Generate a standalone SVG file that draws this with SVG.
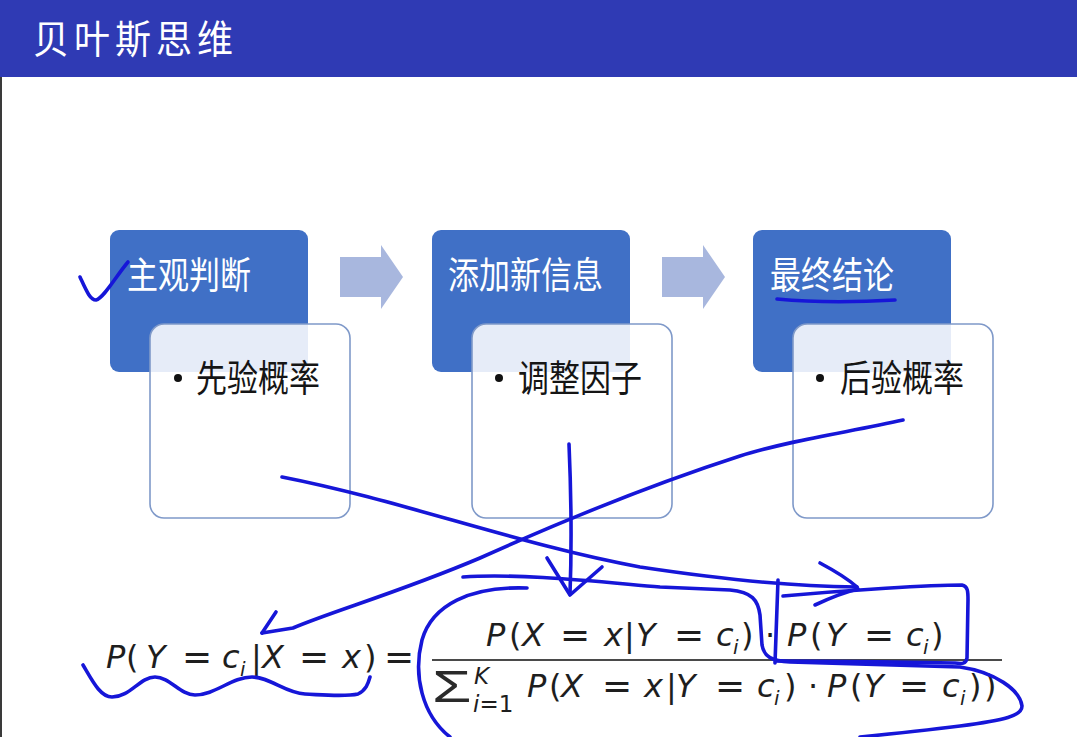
<svg xmlns="http://www.w3.org/2000/svg" width="1077" height="737" viewBox="0 0 1077 737">
  <style>
    .cjk { font-family: "Noto Sans CJK SC", "Noto Sans", sans-serif; }
    .title { fill: #ffffff; font-size: 36px; letter-spacing: 5px; }
    .head { fill: #ffffff; font-size: 31px; }
    .item { fill: #151515; font-size: 31px; }
    .hbox { fill: #4070c6; }
    .dbox { fill: #ffffff; fill-opacity: 0.87; stroke: #7f99c9; stroke-width: 1.6; }
    .bullet { fill: #111111; }
    .flow { fill: #a8b7de; }
    .math { font-family: "DejaVu Sans", "Liberation Sans", sans-serif; font-size: 32px; fill: #1e1e1e; }
    .it { font-style: italic; }
    .eq { font-size: 36px; }
    .sub { font-size: 20px; }
    .lim { font-size: 23px; }
    .sigma { font-family: "Liberation Sans", "DejaVu Sans", sans-serif; font-size: 45px; fill: #2a2a2a; }
    .bar { stroke: #4a4a4a; stroke-width: 2; }
    .ink { fill: none; stroke: #1616d8; stroke-width: 3.6; stroke-linecap: round; stroke-linejoin: round; }
  </style>

  <!-- background and title bar -->
  <rect x="0" y="0" width="1077" height="737" fill="#ffffff"/>
  <rect x="0" y="0" width="1077" height="77" fill="#2f3ab4"/>
  <rect x="0" y="77" width="2" height="660" fill="#3a3a3a"/>
  <text class="cjk title" transform="translate(33,53) scale(1,1.06)">贝叶斯思维</text>

  <!-- flow arrows between stages -->
  <g id="connectors">
    <path class="flow" d="M340,257 H381 V245 L403,277 L381,309 V297 H340 Z"/>
    <path class="flow" d="M662,257 H703 V245 L725,277 L703,309 V297 H662 Z"/>
  </g>

  <!-- stage 1 -->
  <g id="node-prior">
    <rect class="hbox" x="110" y="230" width="198" height="142" rx="9"/>
    <text class="cjk head" transform="translate(127,289) scale(1,1.2)">主观判断</text>
    <rect class="dbox" x="150" y="324" width="200" height="194" rx="14"/>
    <circle class="bullet" cx="178" cy="378" r="4"/>
    <text class="cjk item" transform="translate(196,392) scale(1,1.2)">先验概率</text>
  </g>

  <!-- stage 2 -->
  <g id="node-evidence">
    <rect class="hbox" x="432" y="230" width="198" height="142" rx="9"/>
    <text class="cjk head" transform="translate(448,289) scale(1,1.2)">添加新信息</text>
    <rect class="dbox" x="472" y="324" width="200" height="194" rx="14"/>
    <circle class="bullet" cx="499" cy="378" r="4"/>
    <text class="cjk item" transform="translate(518,392) scale(1,1.2)">调整因子</text>
  </g>

  <!-- stage 3 -->
  <g id="node-posterior">
    <rect class="hbox" x="753" y="230" width="198" height="142" rx="9"/>
    <text class="cjk head" transform="translate(770,289) scale(1,1.2)">最终结论</text>
    <rect class="dbox" x="793" y="324" width="200" height="194" rx="14"/>
    <circle class="bullet" cx="820" cy="378" r="4"/>
    <text class="cjk item" transform="translate(840,392) scale(1,1.2)">后验概率</text>
  </g>

  <!-- Bayes formula -->
  <g id="formula">
    <!-- left-hand side -->
    <text class="math">
      <tspan class="it" x="106" y="668">P</tspan><tspan x="126" y="668">(</tspan><tspan class="it" x="146" y="668">Y</tspan><tspan class="eq" x="182" y="669">=</tspan><tspan class="it" x="222" y="668">c</tspan><tspan class="it sub" x="240" y="676">i</tspan><tspan x="251" y="668">|</tspan><tspan class="it" x="262" y="668">X</tspan><tspan class="eq" x="299" y="669">=</tspan><tspan class="it" x="342" y="668">x</tspan><tspan x="364" y="668">)</tspan><tspan class="eq" x="384" y="669">=</tspan>
    </text>
    <!-- numerator -->
    <text class="math">
      <tspan class="it" x="486" y="646">P</tspan><tspan x="509" y="646">(</tspan><tspan class="it" x="522" y="646">X</tspan><tspan class="eq" x="560" y="647">=</tspan><tspan class="it" x="604" y="646">x</tspan><tspan x="624" y="646">|</tspan><tspan class="it" x="636" y="646">Y</tspan><tspan class="eq" x="674" y="647">=</tspan><tspan class="it" x="716" y="646">c</tspan><tspan class="it sub" x="733" y="654">i</tspan><tspan x="741" y="646">)</tspan><tspan x="765" y="646">·</tspan><tspan class="it" x="787" y="646">P</tspan><tspan x="810" y="646">(</tspan><tspan class="it" x="826" y="646">Y</tspan><tspan class="eq" x="864" y="647">=</tspan><tspan class="it" x="906" y="646">c</tspan><tspan class="it sub" x="923" y="654">i</tspan><tspan x="931" y="646">)</tspan>
    </text>
    <line class="bar" x1="432" y1="660" x2="1002" y2="660"/>
    <!-- denominator -->
    <text class="sigma" transform="translate(432,702) scale(1.42,1)">Σ</text>
    <text class="math">
      <tspan class="it lim" x="474" y="684">K</tspan><tspan class="lim" x="473" y="712"><tspan class="it">i</tspan>=1</tspan><tspan class="it" x="527" y="697">P</tspan><tspan x="549" y="697">(</tspan><tspan class="it" x="561" y="697">X</tspan><tspan class="eq" x="602" y="698">=</tspan><tspan class="it" x="644" y="697">x</tspan><tspan x="666" y="697">|</tspan><tspan class="it" x="676" y="697">Y</tspan><tspan class="eq" x="715" y="698">=</tspan><tspan class="it" x="757" y="697">c</tspan><tspan class="it sub" x="774" y="705">i</tspan><tspan x="784" y="697">)</tspan><tspan x="808" y="697">·</tspan><tspan class="it" x="827" y="697">P</tspan><tspan x="850" y="697">(</tspan><tspan class="it" x="864" y="697">Y</tspan><tspan class="eq" x="899" y="698">=</tspan><tspan class="it" x="942" y="697">c</tspan><tspan class="it sub" x="960" y="705">i</tspan><tspan x="969" y="697">)</tspan><tspan x="984" y="697">)</tspan>
    </text>
  </g>

  <!-- pen annotations -->
  <g id="ink">
    <!-- tick beside the first heading -->
    <path class="ink" d="M80,277 C86,290 90,300 96,300 C104,298 116,276 128,262"/>
    <!-- underline of the conclusion heading -->
    <path class="ink" d="M777,299 C820,303 860,302 895,300"/>
    <!-- prior to the P(Y=c_i) factor -->
    <path class="ink" d="M282,477 C400,500 520,545 640,567 C740,582 800,586 857,587"/>
    <path class="ink" d="M820,563 C835,571 848,579 857,587"/>
    <path class="ink" d="M815,605 C830,598 845,592 858,589"/>
    <!-- box round P(Y=c_i) in the numerator -->
    <path class="ink" d="M778,580 L775,663"/>
    <path class="ink" d="M783,596 C850,590 930,585 962,585 C968,586 968,592 968,600 L967,658 C966,664 962,664 955,663 C900,662 820,661 776,661"/>
    <!-- posterior to the left-hand side -->
    <path class="ink" d="M903,420 C850,432 790,440 740,456 C650,485 560,522 480,558 C400,592 330,612 293,628 L262,633"/>
    <path class="ink" d="M262,633 L276,612"/>
    <!-- adjustment factor down to the fraction -->
    <path class="ink" d="M569,444 C571,490 572,540 570,594"/>
    <path class="ink" d="M547,558 L570,595 L602,567"/>
    <!-- loop round the fraction -->
    <path class="ink" d="M527,588 C470,586 432,605 422,640 C413,675 422,715 450,737"/>
    <path class="ink" d="M463,577 C520,573 600,582 660,587 L730,590 C752,592 758,600 760,615 L762,645 C764,657 772,661 790,662 L960,667 C995,672 1020,690 1022,706 C1022,716 1005,720 960,726 C920,731 890,734 860,737"/>
    <!-- wavy underline of the left-hand side -->
    <path class="ink" d="M83,665 C92,680 100,697 112,697 C130,697 140,677 155,677 C170,677 180,695 195,695 C215,695 232,677 252,677 C270,677 285,693 305,694 C325,695 345,697 358,694 C366,690 368,684 370,677"/>
  </g>
</svg>
